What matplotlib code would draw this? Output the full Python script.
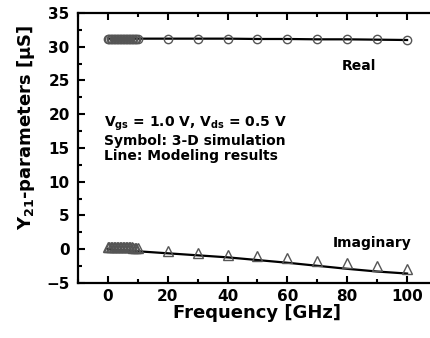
import matplotlib
matplotlib.use("Agg")
import matplotlib.pyplot as plt
from matplotlib.ticker import MultipleLocator

# -- Data --------------------------------------------------------------------
freq_sim = [0, 0.5, 1, 1.5, 2, 2.5, 3, 3.5, 4, 4.5, 5, 5.5, 6, 6.5, 7, 7.5,
            8, 8.5, 9, 9.5, 10, 20, 30, 40, 50, 60, 70, 80, 90, 100]
real_sim = [31.2] * 21 + [31.2, 31.2, 31.2, 31.2, 31.15, 31.15, 31.1, 31.1, 31.05]
imag_sim = [0.3] * 17 + [0.25, 0.25, 0.25, 0.2,
                         -0.3, -0.5, -0.8, -1.0, -1.3, -1.7, -2.1, -2.5, -2.9]

freq_model = [0, 10, 20, 30, 40, 50, 60, 70, 80, 90, 100]
real_model = [31.2, 31.2, 31.2, 31.2, 31.2, 31.15, 31.15, 31.1, 31.1, 31.05, 31.0]
imag_model = [0.0, -0.3, -0.6, -0.9, -1.2, -1.6, -2.0, -2.45, -2.9, -3.3, -3.6]

FONT = "DejaVu Sans"
plt.rcParams["font.family"] = [FONT]
plt.rcParams["font.weight"] = "bold"
plt.rcParams["mathtext.fontset"] = "custom"
plt.rcParams["mathtext.rm"] = FONT + ":bold"
plt.rcParams["mathtext.it"] = FONT + ":bold"
plt.rcParams["mathtext.bf"] = FONT + ":bold"

fig = plt.figure(figsize=(4.31, 3.38), dpi=100)
ax = fig.add_axes([78 / 431, 1 - 283 / 338, (437 - 78) / 431, (283 - 13) / 338])

ax.plot(freq_model, real_model, color="black", lw=1.6, zorder=2)
ax.plot(freq_model, imag_model, color="black", lw=1.6, zorder=2)
ax.plot(freq_sim, real_sim, "o", mfc="none", mec="#555555", ms=6, mew=1.0, zorder=3)
ax.plot(freq_sim, imag_sim, "^", mfc="none", mec="#555555", ms=7, mew=1.0, zorder=3)

ax.set_xlim(-10, 110)
ax.set_ylim(-5, 35)
ax.xaxis.set_major_locator(MultipleLocator(20))
ax.xaxis.set_minor_locator(MultipleLocator(10))
ax.yaxis.set_major_locator(MultipleLocator(5))
ax.yaxis.set_minor_locator(MultipleLocator(2.5))
ax.tick_params(which="both", direction="in", top=True, right=False,
               labelsize=11, width=1.5)
ax.tick_params(axis="y", pad=6)
ax.tick_params(axis="x", pad=4)
ax.tick_params(which="major", length=5)
ax.tick_params(which="minor", length=3)
for s in ["left", "bottom", "top"]:
    ax.spines[s].set_linewidth(1.6)
ax.spines["right"].set_visible(False)

ax.set_xlabel("Frequency [GHz]", fontsize=13, fontweight="bold", labelpad=0)
ax.set_ylabel(r"Y$_{21}$-parameters [$\mu$S]", fontsize=13, fontweight="bold")
ax.yaxis.set_label_coords(-0.115, 0.578)

ax.text(78, 27.2, "Real", fontsize=10, fontweight="bold", va="center")
ax.text(75, 0.9, "Imaginary", fontsize=10, fontweight="bold", va="center")
ax.text(-1.2, 18.6, r"V$_{gs}$ = 1.0 V, V$_{ds}$ = 0.5 V", fontsize=10,
        fontweight="bold", va="center")
ax.text(-1.2, 16.1, "Symbol: 3-D simulation", fontsize=10, fontweight="bold", va="center")
ax.text(-1.2, 13.8, "Line: Modeling results", fontsize=10, fontweight="bold", va="center")

fig.savefig("out.png", dpi=100)
